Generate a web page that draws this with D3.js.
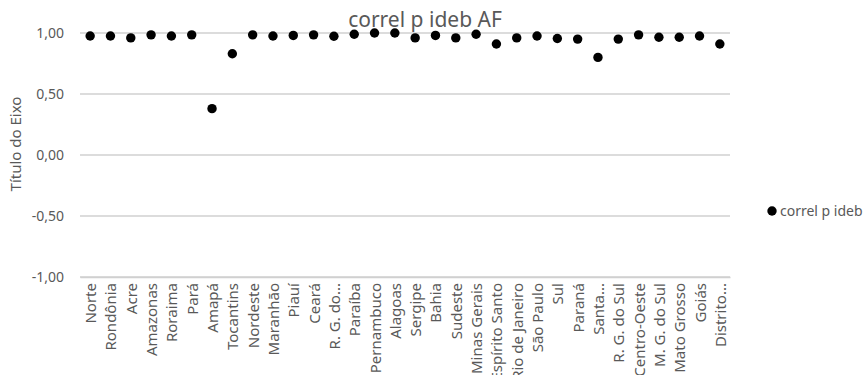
<!DOCTYPE html>
<html>
<head>
<meta charset="utf-8">
<script src="https://cdn.jsdelivr.net/npm/d3@7"></script>
<style>
  html, body { margin: 0; padding: 0; background: #fff; }
  svg { display: block; font-family: "Noto Sans", "Open Sans", sans-serif; }
</style>
</head>
<body>
<svg id="chart" width="868" height="375"></svg>
<script>
// Correlação por região / UF (anos finais)
const categories = ["Norte", "Rondônia", "Acre", "Amazonas", "Roraima", "Pará", "Amapá", "Tocantins",
  "Nordeste", "Maranhão", "Piauí", "Ceará", "R. G. do...", "Paraíba", "Pernambuco", "Alagoas",
  "Sergipe", "Bahia", "Sudeste", "Minas Gerais", "Espírito Santo", "Rio de Janeiro", "São Paulo",
  "Sul", "Paraná", "Santa...", "R. G. do Sul", "Centro-Oeste", "M. G. do Sul", "Mato Grosso",
  "Goiás", "Distrito..."];
const correl = [0.975, 0.975, 0.96, 0.985, 0.975, 0.985, 0.38, 0.83,
  0.985, 0.975, 0.98, 0.985, 0.973, 0.99, 1.00, 1.00,
  0.96, 0.98, 0.96, 0.99, 0.91, 0.96, 0.975,
  0.955, 0.95, 0.80, 0.95, 0.985, 0.965, 0.965,
  0.975, 0.91];
const yTicks = [-1, -0.5, 0, 0.5, 1];
const seriesName = "correl p ideb";
const chartTitle = "correl p ideb AF";
const axisTitle = "Título do Eixo";

const svg = d3.select("#chart");
const plot = { left: 80, right: 730, top: 33, bottom: 277 };

const x = d3.scaleBand().domain(categories).range([plot.left, plot.right]);
const y = d3.scaleLinear().domain([-1, 1]).range([plot.bottom, plot.top]);
const fmt = v => d3.format(".2f")(v).replace(".", ",").replace("−", "-");

// horizontal gridlines
svg.append("g")
  .selectAll("line")
  .data(yTicks)
  .join("line")
  .attr("x1", plot.left).attr("x2", plot.right)
  .attr("y1", d => y(d)).attr("y2", d => y(d))
  .attr("stroke", "#d0d0d0").attr("stroke-width", 1.3);

// y axis labels
const yAxis = svg.append("g")
  .attr("transform", `translate(${plot.left - 16},0)`)
  .call(d3.axisLeft(y).tickValues(yTicks).tickFormat(fmt).tickSize(0).tickPadding(0));
yAxis.select(".domain").remove();
yAxis.selectAll("text")
  .attr("fill", "#595959").attr("font-size", 14)
  .attr("font-family", "Noto Sans, Open Sans, sans-serif");

// category axis
const xAxis = svg.append("g")
  .attr("transform", `translate(0,${plot.bottom})`)
  .call(d3.axisBottom(x).tickSize(0).tickPadding(0));
xAxis.select(".domain").attr("stroke", "#d0d0d0").attr("stroke-width", 1.3);
xAxis.selectAll("text")
  .attr("fill", "#595959").attr("font-size", 15)
  .attr("font-family", "Noto Sans, Open Sans, sans-serif")
  .attr("text-anchor", "end")
  .attr("dy", null)
  .attr("dominant-baseline", "central")
  .attr("transform", "translate(0,6) rotate(-90)");

// markers
svg.append("g")
  .selectAll("circle")
  .data(categories.map((c, i) => ({ c, v: correl[i] })))
  .join("circle")
  .attr("cx", d => x(d.c) + x.bandwidth() / 2)
  .attr("cy", d => y(d.v))
  .attr("r", 4.7)
  .attr("fill", "#000");

// chart title
svg.append("text")
  .attr("x", 425).attr("y", 27)
  .attr("text-anchor", "middle")
  .attr("font-size", 21)
  .attr("fill", "#595959")
  .text(chartTitle);

// y axis title
svg.append("text")
  .attr("transform", "translate(21,144) rotate(-90)")
  .attr("text-anchor", "middle")
  .attr("font-size", 15)
  .attr("fill", "#595959")
  .text(axisTitle);

// legend
const legend = svg.append("g").attr("transform", "translate(772,211)");
legend.append("circle").attr("r", 4.7).attr("fill", "#000");
legend.append("text")
  .attr("x", 8).attr("dy", "0.35em")
  .attr("font-size", 14)
  .attr("fill", "#595959")
  .text(seriesName);
</script>
</body>
</html>
